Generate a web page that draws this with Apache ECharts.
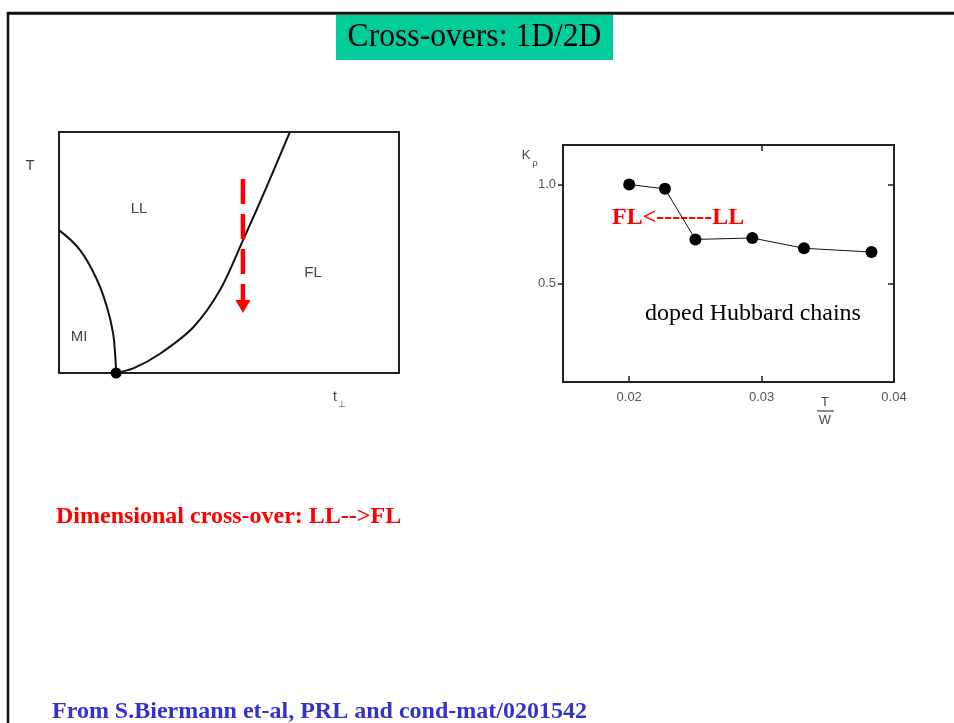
<!DOCTYPE html>
<html>
<head>
<meta charset="utf-8">
<script src="https://cdn.jsdelivr.net/npm/echarts@6/dist/echarts.min.js"></script>
<style>
html,body{margin:0;padding:0;background:#fff;}
#chart{width:954px;height:723px;}
</style>
</head>
<body>
<div id="chart"></div>
<script>
// ---- Left panel: schematic phase diagram (t_perp, T), normalized 0..1 ----
const miBoundaryX = [0.000, 0.062, 0.112, 0.141, 0.159, 0.166, 0.168];
const miBoundaryY = [0.593, 0.510, 0.386, 0.274, 0.166, 0.060, 0.000];
const flBoundaryX = [0.168, 0.220, 0.297, 0.395, 0.474, 0.541, 0.610, 0.679];
const flBoundaryY = [0.000, 0.020, 0.080, 0.190, 0.345, 0.550, 0.770, 1.000];
const criticalPoint = [0.168, 0.000];
const arrowX = [0.541, 0.541];
const arrowY = [0.805, 0.276];

// ---- Right panel: K_rho vs T/W, doped Hubbard chains ----
const tOverW = [0.0200, 0.0227, 0.0250, 0.0293, 0.0332, 0.0383];
const kRho   = [1.000, 0.978, 0.722, 0.729, 0.677, 0.658];
const xTicks = [0.02, 0.03, 0.04];
const xTopTicks = [0.03];
const yTicks = [0.5, 1.0];

const zip = (a, b) => a.map((v, i) => [v, b[i]]);

const chart = echarts.init(document.getElementById('chart'), null, {renderer: 'canvas'});

const serif = '"Liberation Serif", "Times New Roman", serif';
const sans = '"Liberation Sans", Arial, Helvetica, sans-serif';

const arrowData = zip(arrowX, arrowY).map((p, i) => i === arrowX.length - 1
  ? {value: p, symbol: 'triangle', symbolSize: [15, 13], symbolRotate: 180}
  : {value: p, symbol: 'none'});

const option = {
  animation: false,
  backgroundColor: '#ffffff',
  grid: [
    {left: 59, top: 132, width: 340, height: 241, show: true, borderColor: '#222', borderWidth: 2, backgroundColor: 'transparent'},
    {left: 563, top: 145, width: 331, height: 237, show: true, borderColor: '#222', borderWidth: 2, backgroundColor: 'transparent'}
  ],
  xAxis: [
    {gridIndex: 0, type: 'value', min: 0, max: 1, show: false},
    {gridIndex: 1, type: 'value', min: 0.015, max: 0.04, position: 'bottom',
      axisLine: {show: true, onZero: false, lineStyle: {color: '#222', width: 2}},
      axisTick: {show: true, inside: true, length: 6, customValues: xTicks, lineStyle: {color: '#222', width: 1.5}},
      axisLabel: {show: true, customValues: xTicks, margin: 9, color: '#555', fontSize: 13, fontFamily: sans,
        formatter: v => v.toFixed(2)},
      splitLine: {show: false}},
    {gridIndex: 1, type: 'value', min: 0.015, max: 0.04, position: 'top',
      axisLine: {show: true, onZero: false, lineStyle: {color: '#222', width: 2}},
      axisTick: {show: true, inside: true, length: 6, customValues: xTopTicks, lineStyle: {color: '#222', width: 1.5}},
      axisLabel: {show: false},
      splitLine: {show: false}}
  ],
  yAxis: [
    {gridIndex: 0, type: 'value', min: 0, max: 1, show: false},
    {gridIndex: 1, type: 'value', min: 0, max: 1.2, position: 'left',
      axisLine: {show: true, onZero: false, lineStyle: {color: '#222', width: 2}},
      axisTick: {show: true, inside: false, length: 5, customValues: yTicks, lineStyle: {color: '#222', width: 1.5}},
      axisLabel: {show: true, customValues: yTicks, margin: 7, color: '#555', fontSize: 13, fontFamily: sans,
        formatter: v => v.toFixed(1)},
      splitLine: {show: false}},
    {gridIndex: 1, type: 'value', min: 0, max: 1.2, position: 'right',
      axisLine: {show: true, onZero: false, lineStyle: {color: '#222', width: 2}},
      axisTick: {show: true, inside: true, length: 6, customValues: yTicks, lineStyle: {color: '#222', width: 1.5}},
      axisLabel: {show: false},
      splitLine: {show: false}}
  ],
  series: [
    {type: 'line', name: 'MI boundary', xAxisIndex: 0, yAxisIndex: 0, smooth: 0.4, symbol: 'none',
      data: zip(miBoundaryX, miBoundaryY), lineStyle: {color: '#111', width: 2}},
    {type: 'line', name: 'FL boundary', xAxisIndex: 0, yAxisIndex: 0, smooth: 0.3, symbol: 'none',
      data: zip(flBoundaryX, flBoundaryY), lineStyle: {color: '#111', width: 2}},
    {type: 'scatter', name: 'critical point', xAxisIndex: 0, yAxisIndex: 0, symbol: 'circle', symbolSize: 11,
      data: [criticalPoint], itemStyle: {color: '#000', opacity: 1}, z: 6},
    {type: 'line', name: 'crossover arrow', xAxisIndex: 0, yAxisIndex: 0, symbol: 'none', showSymbol: true,
      data: arrowData, lineStyle: {color: '#ff0000', width: 4.5, type: [25, 10]}, itemStyle: {color: '#ff0000'}, z: 5},
    {type: 'line', name: 'K_rho', xAxisIndex: 1, yAxisIndex: 1, symbol: 'circle', symbolSize: 12, showAllSymbol: true,
      data: zip(tOverW, kRho), lineStyle: {color: '#111', width: 1}, itemStyle: {color: '#000'}}
  ],
  graphic: [
    // slide frame
    {type: 'line', shape: {x1: 7, y1: 13.3, x2: 954, y2: 13.3}, style: {stroke: '#111', lineWidth: 3}},
    {type: 'line', shape: {x1: 8, y1: 12, x2: 8, y2: 723}, style: {stroke: '#111', lineWidth: 2.5}},
    // title box
    {type: 'rect', shape: {x: 336, y: 15, width: 277, height: 45}, style: {fill: '#00cc99'}},
    {type: 'text', x: 474.5, y: 37, scaleX: 0.93, originX: 0, originY: 0,
      style: {text: 'Cross-overs: 1D/2D', font: '34px ' + serif, fill: '#000', align: 'center', verticalAlign: 'middle'}},
    // left panel labels
    {type: 'text', x: 30, y: 166, style: {text: 'T', font: '15px ' + sans, fill: '#444', align: 'center', verticalAlign: 'middle'}},
    {type: 'text', x: 139, y: 209, style: {text: 'LL', font: '15px ' + sans, fill: '#444', align: 'center', verticalAlign: 'middle'}},
    {type: 'text', x: 313, y: 273, style: {text: 'FL', font: '15px ' + sans, fill: '#444', align: 'center', verticalAlign: 'middle'}},
    {type: 'text', x: 79, y: 337, style: {text: 'MI', font: '15px ' + sans, fill: '#444', align: 'center', verticalAlign: 'middle'}},
    {type: 'text', x: 335, y: 397, style: {text: 't', font: '14px ' + sans, fill: '#444', align: 'center', verticalAlign: 'middle'}},
    {type: 'text', x: 342, y: 405, style: {text: '⊥', font: '9px ' + sans, fill: '#444', align: 'center', verticalAlign: 'middle'}},
    // right panel labels
    {type: 'text', x: 526, y: 155, style: {text: 'K', font: '13px ' + sans, fill: '#444', align: 'center', verticalAlign: 'middle'}},
    {type: 'text', x: 535, y: 164, style: {text: 'ρ', font: '9px ' + sans, fill: '#444', align: 'center', verticalAlign: 'middle'}},
    {type: 'text', x: 825, y: 402, style: {text: 'T', font: '13px ' + sans, fill: '#444', align: 'center', verticalAlign: 'middle'}},
    {type: 'line', shape: {x1: 817, y1: 411, x2: 834, y2: 411}, style: {stroke: '#444', lineWidth: 1.2}},
    {type: 'text', x: 825, y: 420, style: {text: 'W', font: '13px ' + sans, fill: '#444', align: 'center', verticalAlign: 'middle'}},
    {type: 'text', x: 612, y: 217.5, style: {text: 'FL<-------LL', font: 'bold 24px ' + serif, fill: '#ff0000', align: 'left', verticalAlign: 'middle'}},
    {type: 'text', x: 645, y: 313.5, style: {text: 'doped Hubbard chains', font: '24px ' + serif, fill: '#000', align: 'left', verticalAlign: 'middle'}},
    // bottom notes
    {type: 'text', x: 56, y: 517, style: {text: 'Dimensional cross-over: LL-->FL', font: 'bold 24px ' + serif, fill: '#ff0000', align: 'left', verticalAlign: 'middle'}},
    {type: 'text', x: 52, y: 712, style: {text: 'From S.Biermann et-al, PRL and cond-mat/0201542', font: 'bold 24px ' + serif, fill: '#3333cc', align: 'left', verticalAlign: 'middle'}}
  ]
};
chart.setOption(option);
</script>
</body>
</html>
